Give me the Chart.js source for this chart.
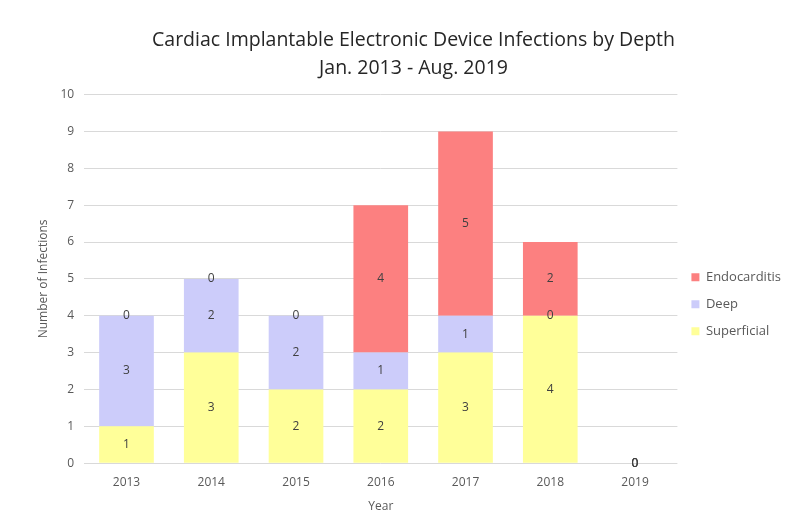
<!DOCTYPE html>
<html>
<head>
<meta charset="utf-8">
<script src="https://cdn.jsdelivr.net/npm/chart.js@4"></script>
<style>
  html, body { margin: 0; padding: 0; background: #fff; }
  #wrap { width: 791px; height: 528px; }
</style>
</head>
<body>
<div id="wrap"><canvas id="grafico"></canvas></div>
<script>
const anos = ["2013", "2014", "2015", "2016", "2017", "2018", "2019"];
const superficial = [1, 3, 2, 2, 3, 4, 0];
const deep = [3, 2, 2, 1, 1, 0, 0];
const endocarditis = [0, 0, 0, 4, 5, 2, 0];

// rótulos no meio de cada segmento (inclusive zeros)
const rotulos = {
  id: "rotulos",
  afterDatasetsDraw(chart) {
    const c = chart.ctx;
    c.save();
    c.font = "12px 'Open Sans'";
    c.fillStyle = "#404040";
    c.textAlign = "center";
    c.textBaseline = "middle";
    chart.data.datasets.forEach((ds, i) => {
      const meta = chart.getDatasetMeta(i);
      meta.data.forEach((bar, j) => {
        const y = (bar.y + bar.base) / 2;
        c.fillText(String(ds.data[j]), bar.x, y);
      });
    });
    c.restore();
  }
};

new Chart(document.getElementById("grafico"), {
  type: "bar",
  data: {
    labels: anos,
    datasets: [
      { label: "Superficial", data: superficial, backgroundColor: "rgb(255,255,153)" },
      { label: "Deep", data: deep, backgroundColor: "rgb(204,204,250)" },
      { label: "Endocarditis", data: endocarditis, backgroundColor: "rgb(252,128,128)" }
    ]
  },
  options: {
    responsive: true,
    maintainAspectRatio: false,
    animation: false,
    barPercentage: 0.645,
    categoryPercentage: 1,
    layout: { padding: { top: 26, left: 36, right: 0, bottom: 14 } },
    plugins: {
      title: {
        display: true,
        text: ["Cardiac Implantable Electronic Device Infections by Depth", "Jan. 2013 - Aug. 2019"],
        font: { family: "'Open Sans'", size: 19.5, weight: "normal", lineHeight: 1.45 },
        color: "#262626",
        padding: { top: 0, bottom: 12 }
      },
      legend: {
        position: "right",
        reverse: true,
        title: { display: true, text: " ", font: { size: 12 }, padding: { top: 0, bottom: 54 } },
        labels: {
          font: { family: "'Open Sans'", size: 13 },
          color: "#595959",
          boxWidth: 8,
          boxHeight: 8,
          padding: 14
        }
      },
      tooltip: { enabled: false }
    },
    scales: {
      x: {
        stacked: true,
        grid: { display: false },
        border: { display: false },
        ticks: { padding: 4, color: "#595959", font: { family: "'Open Sans'", size: 12 } },
        title: { display: true, text: "Year", color: "#595959", padding: { top: 6, bottom: 0 }, font: { family: "'Open Sans'", size: 12 } }
      },
      y: {
        stacked: true,
        min: 0,
        max: 10,
        grid: { color: "#d9d9d9", drawTicks: false },
        border: { display: false },
        ticks: { stepSize: 1, padding: 10, color: "#595959", font: { family: "'Open Sans'", size: 12 } },
        title: { display: true, text: "Number of Infections", color: "#595959", padding: { top: 0, bottom: 0 }, font: { family: "'Open Sans'", size: 12 } }
      }
    }
  },
  plugins: [rotulos]
});
</script>
</body>
</html>
